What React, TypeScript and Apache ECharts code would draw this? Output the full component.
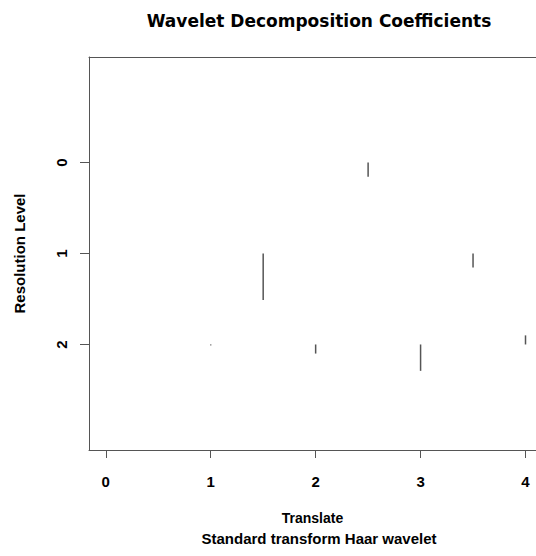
import React, { useEffect, useRef } from "react";
import * as echarts from "echarts";

// Wavelet coefficients, one entry per vertical segment
const translates = [2.5, 1.5, 3.5, 1, 2, 3, 4];
const levels = [0, 1, 1, 2, 2, 2, 2];
const coefficients = [0.155, 0.51, 0.155, 0.01, 0.1, 0.29, -0.1];

const xTicks = [0, 1, 2, 3, 4];
const yTicks = [0, 1, 2];

const FONT = "'Liberation Sans', Arial, sans-serif";
const TITLE_FONT = "'DejaVu Sans', 'Liberation Sans', sans-serif";
const FRAME = "#555";

export default function App() {
  const ref = useRef<HTMLDivElement>(null);

  useEffect(() => {
    if (!ref.current) return;
    const chart = echarts.init(ref.current, null, { renderer: "svg" });
    const data = translates.map((t, i) => [t, levels[i], coefficients[i]]);

    chart.setOption({
      animation: false,
      backgroundColor: "#ffffff",
      textStyle: { fontFamily: FONT },
      title: [
        {
          text: "Wavelet Decomposition Coefficients",
          left: 314,
          top: 7,
          textAlign: "center",
          textStyle: { fontFamily: TITLE_FONT, fontSize: 17, fontWeight: "bold", color: "#000" },
        },
        {
          text: "Standard transform Haar wavelet",
          left: 314,
          top: 526,
          textAlign: "center",
          textStyle: { fontFamily: FONT, fontSize: 15, fontWeight: "bold", color: "#000" },
        },
      ],
      grid: {
        show: false,
        left: 89,
        top: 57,
        width: 447,
        height: 393,
        containLabel: false,
      },
      xAxis: [
        {
          type: "value",
          position: "bottom",
          min: -0.16,
          max: 4.1,
          name: "Translate",
          nameLocation: "middle",
          nameGap: 61,
          nameTextStyle: { fontFamily: FONT, fontSize: 14, fontWeight: "bold", color: "#000" },
          splitLine: { show: false },
          axisLine: { show: true, onZero: false, lineStyle: { color: FRAME, width: 1 } },
          axisTick: {
            show: true,
            length: 8,
            customValues: xTicks,
            lineStyle: { color: FRAME, width: 1 },
          },
          axisLabel: {
            customValues: xTicks,
            margin: 24,
            fontFamily: FONT,
            fontSize: 15,
            fontWeight: "bold",
            color: "#000",
          },
        },
        {
          // top edge of the plot frame
          type: "value",
          position: "top",
          min: -0.16,
          max: 4.1,
          splitLine: { show: false },
          axisLine: { show: true, onZero: false, lineStyle: { color: FRAME, width: 1 } },
          axisTick: { show: false },
          axisLabel: { show: false },
        },
      ],
      yAxis: {
        type: "value",
        position: "left",
        inverse: true,
        min: -1.16,
        max: 3.16,
        name: "Resolution Level",
        nameLocation: "middle",
        nameGap: 62,
        nameRotate: 90,
        nameTextStyle: { fontFamily: FONT, fontSize: 15, fontWeight: "bold", color: "#000" },
        splitLine: { show: false },
        axisLine: { show: true, onZero: false, lineStyle: { color: FRAME, width: 1 } },
        axisTick: {
          show: true,
          length: 9,
          customValues: yTicks,
          lineStyle: { color: FRAME, width: 1 },
        },
        axisLabel: {
          customValues: yTicks,
          rotate: 90,
          margin: 20,
          fontFamily: FONT,
          fontSize: 15,
          fontWeight: "bold",
          color: "#000",
        },
      },
      series: [
        {
          type: "custom",
          xAxisIndex: 0,
          data,
          renderItem: (params: any, api: any) => {
            const x = api.value(0);
            const lvl = api.value(1);
            const c = api.value(2);
            const p0 = api.coord([x, lvl]);
            const p1 = api.coord([x, lvl + c]);
            return {
              type: "line",
              shape: { x1: p0[0], y1: p0[1], x2: p1[0], y2: p1[1] },
              style: { stroke: "#555", lineWidth: 1.5 },
            };
          },
        },
      ],
    });

    return () => chart.dispose();
  }, []);

  return (
    <div
      ref={ref}
      style={{ position: "fixed", left: 0, top: 0, width: 536, height: 556 }}
    />
  );
}
